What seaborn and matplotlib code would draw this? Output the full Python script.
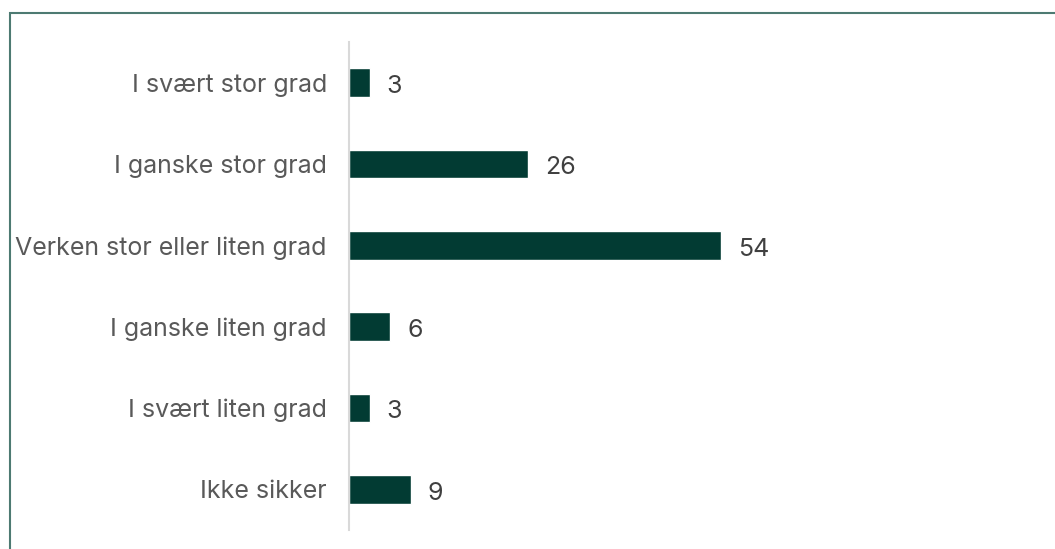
import matplotlib
matplotlib.use("Agg")
import matplotlib.pyplot as plt
import pandas as pd
import seaborn as sns
from matplotlib.patches import Rectangle

categories = [
    "I svært stor grad",
    "I ganske stor grad",
    "Verken stor eller liten grad",
    "I ganske liten grad",
    "I svært liten grad",
    "Ikke sikker",
]
values = [3, 26, 54, 6, 3, 9]

BAR_COLOR = "#023b33"
TEXT_COLOR = "#595959"

sns.set_theme(style="white")
plt.rcParams["font.family"] = ["Inter", "DejaVu Sans"]

df = pd.DataFrame({"category": categories, "value": values})

fig = plt.figure(figsize=(10.55, 5.49), dpi=100)
ax = fig.add_axes([349 / 1055, 1 - 530 / 549, (1038 - 349) / 1055, (530 - 42) / 549])

sns.barplot(data=df, x="value", y="category", ax=ax, color=BAR_COLOR,
            width=0.35, saturation=1, orient="h")

ax.set_xlim(0, 100)
ax.set_ylim(5.5, -0.5)
ax.set_xlabel("")
ax.set_ylabel("")
ax.set_xticks([])
for side in ["top", "right", "bottom"]:
    ax.spines[side].set_visible(False)
ax.spines["left"].set_color("#d9d9d9")
ax.spines["left"].set_linewidth(1.5)
ax.tick_params(axis="y", length=0, pad=16, labelsize=18, labelcolor=TEXT_COLOR)

for i, v in enumerate(values):
    ax.annotate(str(v), xy=(v, i), xytext=(12, -1), textcoords="offset points",
                ha="left", va="center_baseline", fontsize=18, color="#404040")

# outer frame (only top and left visible in the crop)
fig.add_artist(Rectangle((9.5 / 1055, -0.2), 1.2, 1.2 - 13.5 / 549,
                         transform=fig.transFigure, fill=False,
                         edgecolor="#4d7a72", linewidth=1.5))

fig.savefig("out.png", dpi=100)
